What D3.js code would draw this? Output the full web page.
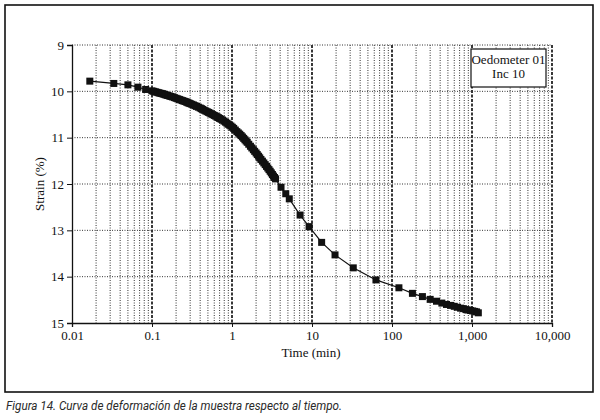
<!DOCTYPE html>
<html>
<head>
<meta charset="utf-8">
<script src="https://cdn.jsdelivr.net/npm/d3@7"></script>
<style>
  html, body { margin: 0; padding: 0; background: #fff; }
  svg { display: block; }
</style>
</head>
<body>
<svg id="chart" width="600" height="420"></svg>
<script>
// ---- data ----
const timeMin = [
  0.0167, 0.0333, 0.05, 0.0667, 0.0833,
  0.1, 0.105, 0.11, 0.115, 0.12, 0.125, 0.13, 0.135, 0.14, 0.145, 0.15, 0.157, 0.165, 0.172, 0.18, 0.19,
  0.2, 0.21, 0.22, 0.23, 0.24, 0.25, 0.26, 0.27, 0.28, 0.29, 0.3, 0.315, 0.33, 0.345, 0.36, 0.38,
  0.4, 0.415, 0.43, 0.45, 0.47, 0.49, 0.51, 0.53, 0.55, 0.575, 0.6, 0.625, 0.65, 0.675, 0.7, 0.73,
  0.76, 0.795, 0.83, 0.865, 0.9, 0.935, 0.97, 1.01, 1.05, 1.1, 1.15, 1.2, 1.25, 1.3, 1.35, 1.4,
  1.45, 1.5, 1.55, 1.62, 1.7, 1.77, 1.85, 1.92, 2.0, 2.07, 2.15, 2.22, 2.3, 2.4, 2.5, 2.6,
  2.7, 2.8, 2.9, 3.0, 3.1, 3.2, 3.3, 3.4, 3.5,
  4.1, 4.7, 5.2, 7.1, 9.2, 13.2, 19.4, 32.8, 63, 122,
  180, 240, 300, 360, 420, 480, 540, 600, 660, 720, 780, 840, 900, 960, 1020, 1080, 1140, 1200
];
const strainPct = [
  9.78, 9.83, 9.86, 9.91, 9.96,
  9.99, 10.00, 10.01, 10.02, 10.03, 10.038, 10.045, 10.052, 10.06, 10.07, 10.08, 10.09, 10.10, 10.11, 10.12, 10.135,
  10.15, 10.162, 10.175, 10.188, 10.20, 10.21, 10.22, 10.232, 10.245, 10.255, 10.265, 10.28, 10.295, 10.31, 10.325, 10.342,
  10.36, 10.375, 10.39, 10.408, 10.425, 10.44, 10.455, 10.47, 10.485, 10.502, 10.52, 10.535, 10.55, 10.567, 10.585, 10.602,
  10.62, 10.642, 10.665, 10.688, 10.71, 10.73, 10.75, 10.775, 10.80, 10.835, 10.87, 10.898, 10.925, 10.955, 10.985, 11.015,
  11.045, 11.072, 11.10, 11.142, 11.185, 11.222, 11.26, 11.295, 11.33, 11.365, 11.40, 11.435, 11.47, 11.507, 11.545, 11.582,
  11.62, 11.655, 11.69, 11.725, 11.76, 11.795, 11.83, 11.86, 11.89,
  12.07, 12.21, 12.32, 12.67, 12.92, 13.26, 13.53, 13.81, 14.07, 14.24,
  14.36, 14.43, 14.49, 14.53, 14.57, 14.60, 14.62, 14.64, 14.66, 14.68, 14.69, 14.71, 14.72, 14.73, 14.74, 14.75, 14.76, 14.78
];
const xTickValues = [0.01, 0.1, 1, 10, 100, 1000, 10000];
const xTickLabels = ["0.01", "0.1", "1", "10", "100", "1,000", "10,000"];
const yTickValues = [9, 10, 11, 12, 13, 14, 15];
const xAxisTitle = "Time (min)";
const yAxisTitle = "Strain (%)";
const legendLines = ["Oedometer 01", "Inc 10"];
const caption = "Figura 14. Curva de deformación de la muestra respecto al tiempo.";

const data = timeMin.map((t, i) => ({ t, s: strainPct[i] }));

// ---- layout ----
const svg = d3.select("#chart");
const serif = "'Liberation Serif', 'Times New Roman', serif";

const x = d3.scaleLog().domain([0.01, 10000]).range([72, 552]);
const y = d3.scaleLinear().domain([9, 15]).range([45, 323]);

// outer frame
svg.append("rect")
  .attr("x", 5).attr("y", 5).attr("width", 588).attr("height", 387)
  .attr("fill", "#fff").attr("stroke", "#111").attr("stroke-width", 1.6);

// grid
const grid = svg.append("g");
const minorX = [];
for (let d = -2; d < 4; d++) {
  for (let m = 2; m <= 9; m++) minorX.push(m * Math.pow(10, d));
}
grid.selectAll("line.minor").data(minorX).join("line")
  .attr("x1", d => x(d)).attr("x2", d => x(d))
  .attr("y1", y(9)).attr("y2", y(15))
  .attr("stroke", "#333").attr("stroke-width", 1)
  .attr("stroke-dasharray", "1,1.5");
grid.selectAll("line.major").data(xTickValues.slice(1)).join("line")
  .attr("x1", d => x(d)).attr("x2", d => x(d))
  .attr("y1", y(9)).attr("y2", y(15))
  .attr("stroke", "#222").attr("stroke-width", 1.8)
  .attr("stroke-dasharray", "3,1.5");
grid.selectAll("line.h").data(yTickValues.slice(0, -1)).join("line")
  .attr("x1", x(0.01)).attr("x2", x(10000))
  .attr("y1", d => y(d)).attr("y2", d => y(d))
  .attr("stroke", "#333").attr("stroke-width", 1)
  .attr("stroke-dasharray", "1,1.5");

// axes
const gx = svg.append("g").attr("transform", `translate(0,${y(15)})`)
  .call(d3.axisBottom(x).tickValues(xTickValues).tickSize(4).tickPadding(4)
    .tickFormat((d, i) => xTickLabels[i]));
const gy = svg.append("g").attr("transform", `translate(${x(0.01)},0)`)
  .call(d3.axisLeft(y).tickValues(yTickValues).tickSize(5).tickPadding(3)
    .tickFormat(d3.format("d")));
[gx, gy].forEach(g => {
  g.selectAll("text").attr("font-family", serif).attr("font-size", 13).attr("fill", "#111");
  g.selectAll("line").attr("stroke", "#111");
  g.select(".domain").attr("stroke", "#111").attr("stroke-width", 1.3);
});

// axis titles
svg.append("text")
  .attr("x", 311).attr("y", 357).attr("text-anchor", "middle")
  .attr("font-family", serif).attr("font-size", 13).attr("fill", "#111")
  .text(xAxisTitle);
svg.append("text")
  .attr("transform", `translate(44,${y(12)}) rotate(-90)`)
  .attr("text-anchor", "middle")
  .attr("font-family", serif).attr("font-size", 13).attr("fill", "#111")
  .text(yAxisTitle);

// series line + markers
svg.append("path").datum(data)
  .attr("fill", "none").attr("stroke", "#111").attr("stroke-width", 1.2)
  .attr("d", d3.line().x(d => x(d.t)).y(d => y(d.s)));
const ms = 7;
svg.append("g").selectAll("rect").data(data).join("rect")
  .attr("x", d => x(d.t) - ms / 2).attr("y", d => y(d.s) - ms / 2)
  .attr("width", ms).attr("height", ms)
  .attr("fill", "#111");

// legend box
const lg = svg.append("g");
lg.append("rect")
  .attr("x", 471).attr("y", 49).attr("width", 75).attr("height", 38)
  .attr("fill", "#fff").attr("stroke", "#111").attr("stroke-width", 1.2);
lg.selectAll("text").data(legendLines).join("text")
  .attr("x", 508.5).attr("y", (d, i) => 64 + i * 14)
  .attr("text-anchor", "middle")
  .attr("font-family", serif).attr("font-size", 13).attr("fill", "#111")
  .text(d => d);

// caption
svg.append("text")
  .attr("x", 6).attr("y", 410)
  .attr("font-family", "'Liberation Sans Narrow', 'Roboto', 'Liberation Sans', sans-serif")
  .attr("font-style", "italic").attr("font-size", 12).attr("fill", "#2a2a2a")
  .attr("textLength", 336).attr("lengthAdjust", "spacingAndGlyphs")
  .text(caption);
</script>
</body>
</html>
